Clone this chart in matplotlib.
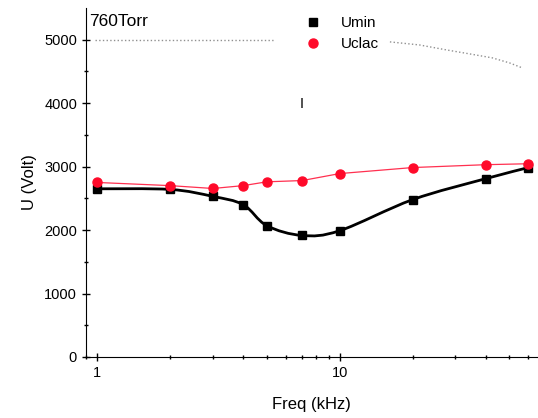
import numpy as np
import matplotlib
matplotlib.use("Agg")
import matplotlib.pyplot as plt
from matplotlib.path import Path
from matplotlib.patches import PathPatch

plt.rcParams['font.family'] = ['Liberation Sans', 'DejaVu Sans']

freq = [1, 2, 3, 4, 5, 7, 10, 20, 40, 60]
u_min = [2650, 2640, 2530, 2400, 2070, 1915, 1990, 2480, 2810, 2985]
u_clac = [2750, 2700, 2655, 2700, 2760, 2780, 2890, 2985, 3030, 3045]

# faint dotted remnants seen on the original plot
ghost1_x = [0.98, 5.4]
ghost1_y = [5000, 5000]
ghost2_x = [16.1, 21.3, 27.6, 34.3, 42.6, 50.1, 56.6]
ghost2_y = [4965, 4917, 4838, 4776, 4713, 4634, 4555]


def smooth_path(xs, ys):
    # Catmull-Rom through the points in log-x space, drawn as Bezier segments
    lx = np.log10(xs)
    ys = np.asarray(ys, dtype=float)
    n = len(lx)
    verts = [(xs[0], ys[0])]
    codes = [Path.MOVETO]
    for i in range(n - 1):
        x0, y0 = (lx[i - 1], ys[i - 1]) if i > 0 else (lx[i], ys[i])
        x1, y1 = lx[i], ys[i]
        x2, y2 = lx[i + 1], ys[i + 1]
        x3, y3 = (lx[i + 2], ys[i + 2]) if i + 2 < n else (x2, y2)
        c1 = (x1 + (x2 - x0) / 6, y1 + (y2 - y0) / 6)
        c2 = (x2 - (x3 - x1) / 6, y2 - (y3 - y1) / 6)
        verts += [(10 ** c1[0], c1[1]), (10 ** c2[0], c2[1]), (10 ** x2, y2)]
        codes += [Path.CURVE4] * 3
    return Path(verts, codes)


fig = plt.figure(figsize=(5.38, 4.18), dpi=100)
ax = fig.add_axes([0.160, 0.146, 0.838, 0.835])
ax.set_xscale('log')
ax.set_xlim(0.9, 65)
ax.set_ylim(0, 5500)

ax.add_patch(PathPatch(smooth_path(freq, u_min), facecolor='none',
                       edgecolor='black', lw=2, zorder=2))
ax.plot(freq, u_min, 's', color='black', ms=5.5, zorder=3, label='Umin')
ax.plot(freq, u_clac, '-', color='#ff3050', lw=0.9, zorder=2)
ax.plot(freq, u_clac, 'o', color='#ff0a2a', ms=6.5, zorder=3, label='Uclac')

ax.plot(ghost1_x, ghost1_y, ':', color='#909090', lw=1)
ax.plot(ghost2_x, ghost2_y, ':', color='#909090', lw=1)
ax.vlines(7, 3920, 4080, color='#333333', lw=1.2)

ax.text(0.925, 5280, '760Torr', fontsize=12.5, va='center', ha='left')

ax.legend(loc='upper left', bbox_to_anchor=(0.453, 1.016), frameon=False,
          fontsize=11, handletextpad=1.2, labelspacing=0.45, handlelength=1.2)

ax.spines['top'].set_visible(False)
ax.spines['right'].set_visible(False)
ax.set_yticks([0, 1000, 2000, 3000, 4000, 5000])
ax.set_yticks(np.arange(500, 5500, 1000), minor=True)
ax.set_xticks([1, 10])
ax.set_xticklabels(['1', '10'])
ax.tick_params(which='major', direction='inout', length=6, width=1, labelsize=10.5)
ax.tick_params(which='minor', direction='inout', length=3, width=1)
ax.tick_params(axis='x', which='minor', labelbottom=False)

ax.set_xlabel('Freq (kHz)', fontsize=12, labelpad=12)
ax.set_ylabel('U (Volt)', fontsize=12, labelpad=5)

fig.savefig('out.png', dpi=100)
